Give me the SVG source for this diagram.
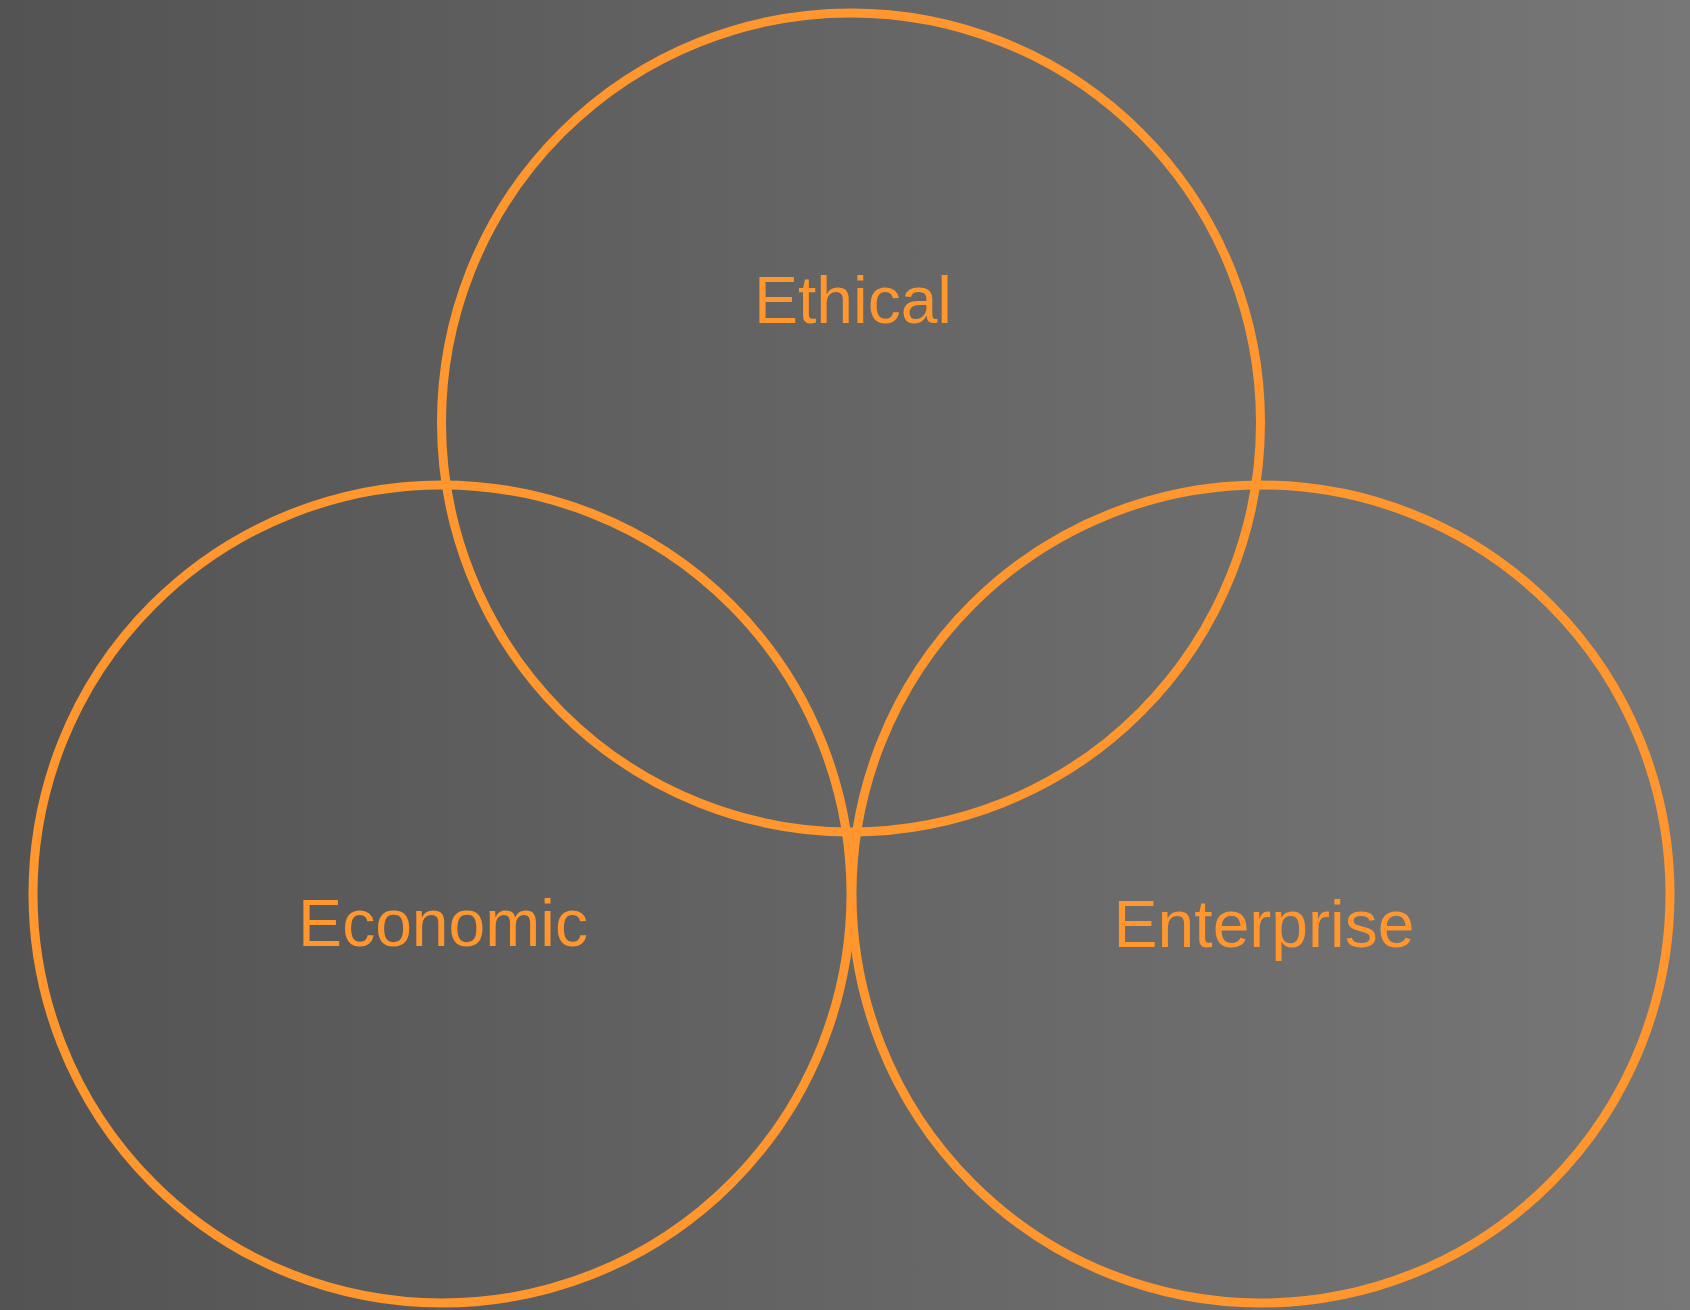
<svg xmlns="http://www.w3.org/2000/svg" width="1690" height="1310" viewBox="0 0 1690 1310">
<defs>
<linearGradient id="bg" x1="0" y1="0" x2="1" y2="0">
<stop offset="0" stop-color="#535353"/>
<stop offset="1" stop-color="#777777"/>
</linearGradient>
<style>
.c{fill:none;stroke:#FF962E;stroke-width:9}
.t{font-family:"Liberation Sans",Arial,sans-serif;font-size:66px;fill:#FF962E;text-anchor:middle}
</style>
</defs>
<rect width="1690" height="1310" fill="url(#bg)"/>
<g id="ethical"><circle class="c" cx="851" cy="422.5" r="409.5"/><text class="t" x="853" y="323">Ethical</text></g>
<g id="economic"><circle class="c" cx="442" cy="894" r="409"/><text class="t" x="443" y="946">Economic</text></g>
<g id="enterprise"><circle class="c" cx="1261" cy="894" r="409"/><text class="t" x="1264" y="947">Enterprise</text></g>
<g id="connectors"/>
</svg>
